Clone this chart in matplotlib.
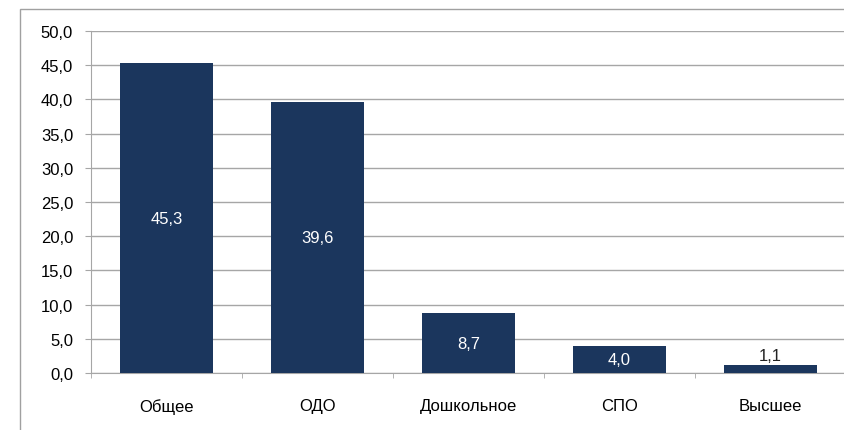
import matplotlib
matplotlib.use('Agg')
import matplotlib.pyplot as plt
from matplotlib.patches import Rectangle

categories = ['Общее', 'ОДО', 'Дошкольное', 'СПО', 'Высшее']
values = [45.3, 39.6, 8.7, 4.0, 1.1]
y_ticks = [0, 5, 10, 15, 20, 25, 30, 35, 40, 45, 50]

plt.rcParams['font.family'] = ['Liberation Sans', 'DejaVu Sans']

bar_color = '#1b365d'
grid_color = '#a6a6a6'
fs = 12


def fmt(v):
    return f'{v:.1f}'.replace('.', ',')


fig = plt.figure(figsize=(8.45, 4.31), dpi=100)
ax = fig.add_axes([91 / 845, 1 - 374 / 431, 755 / 845, (374 - 32) / 431])

x = list(range(len(categories)))
ax.bar(x, values, width=0.62, color=bar_color, zorder=3)

for xi, v in zip(x, values):
    if v > 3:
        ax.text(xi, v / 2, fmt(v), ha='center', va='center', color='white',
                fontsize=fs, zorder=4)
    else:
        ax.text(xi, v + 0.4, fmt(v), ha='center', va='bottom', color='#222222',
                fontsize=fs, zorder=4)

ax.set_xlim(-0.5, len(categories) - 0.5)
ax.set_ylim(0, 50)
ax.set_yticks(y_ticks)
ax.set_yticklabels([fmt(t) for t in y_ticks], fontsize=fs)
ax.yaxis.grid(True, color=grid_color, linewidth=1, zorder=0)
ax.tick_params(axis='y', length=4.3, color=grid_color, pad=8.6)

# category ticks sit between bars
ax.set_xticks(x)
ax.set_xticklabels(categories, fontsize=fs)
ax.tick_params(axis='x', length=0, pad=18)
ax.set_xticks([i - 0.5 for i in range(len(categories) + 1)], minor=True)
ax.tick_params(axis='x', which='minor', length=3.6, color=grid_color, direction='out')

for side in ['top', 'right']:
    ax.spines[side].set_visible(False)
ax.spines['left'].set_color(grid_color)
ax.spines['bottom'].set_color(grid_color)

# outer chart border
border = Rectangle((20 / 845, -0.05), 1.1, 1 - 10 / 431 + 0.05,
                   transform=fig.transFigure, fill=False,
                   edgecolor='#a0a0a0', linewidth=1, clip_on=False)
fig.patches.append(border)

fig.savefig('out.png', dpi=100)
